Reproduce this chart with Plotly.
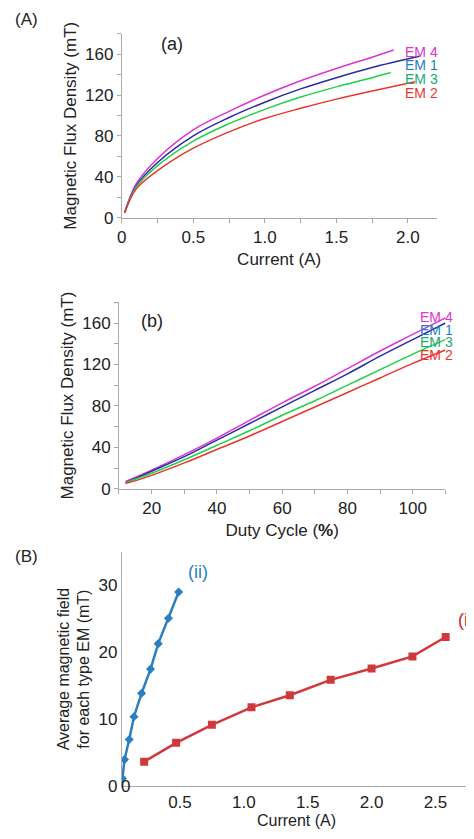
import plotly.graph_objects as go

# (a) flux density vs current
cur_x = {
    "EM 4": [0.02, 0.1, 0.25, 0.5, 0.75, 1.0, 1.25, 1.5, 1.75, 1.9],
    "EM 1": [0.02, 0.1, 0.25, 0.5, 0.75, 1.0, 1.25, 1.5, 1.75, 2.08],
    "EM 3": [0.02, 0.1, 0.25, 0.5, 0.75, 1.0, 1.25, 1.5, 1.75, 1.88],
    "EM 2": [0.02, 0.1, 0.25, 0.5, 0.75, 1.0, 1.25, 1.5, 1.75, 2.05],
}
cur_y = {
    "EM 4": [5, 33, 58, 86, 104, 120, 134, 146, 157, 164],
    "EM 1": [5, 31, 54, 80, 98, 113, 126, 137, 147, 158],
    "EM 3": [5, 30, 51, 75, 92, 106, 118, 128, 137, 142],
    "EM 2": [5, 28, 46, 68, 84, 97, 107, 116, 124, 133],
}
# (b) flux density vs duty cycle
duty_x = [12, 20, 30, 40, 50, 60, 70, 80, 90, 100, 110]
duty_y = {
    "EM 4": [7, 18, 33, 49, 66, 83, 99, 116, 133, 149, 165],
    "EM 1": [6, 17, 31, 47, 63, 79, 95, 111, 128, 144, 160],
    "EM 3": [6, 15, 28, 42, 56, 71, 85, 100, 115, 130, 144],
    "EM 2": [5, 13, 25, 38, 51, 65, 79, 93, 107, 121, 134],
}
colors = {"EM 4": "#e032d0", "EM 1": "#2a2aa8", "EM 3": "#22d04a", "EM 2": "#e8352e"}
label_colors = {"EM 4": "#e032d0", "EM 1": "#1a7fc0", "EM 3": "#1aaa70", "EM 2": "#e8352e"}
label_px_a = {"EM 4": 34, "EM 1": 48, "EM 3": 62, "EM 2": 76}
label_px_b = {"EM 4": 313, "EM 1": 326, "EM 3": 338, "EM 2": 351}

# (B) average field vs current
ii_x = [0.05, 0.066, 0.103, 0.14, 0.2, 0.27, 0.33, 0.41, 0.49]
ii_y = [1.2, 4.0, 7.0, 10.4, 13.9, 17.5, 21.3, 25.1, 29.0]
i_x = [0.22, 0.47, 0.75, 1.06, 1.36, 1.68, 2.0, 2.32, 2.58]
i_y = [3.7, 6.5, 9.2, 11.8, 13.6, 15.9, 17.6, 19.4, 22.3]

H = 839

fig = go.Figure()
for name in cur_x:
    fig.add_trace(go.Scatter(x=cur_x[name], y=cur_y[name], mode="lines", line_shape="spline",
                             line=dict(color=colors[name], width=1.5), xaxis="x", yaxis="y"))
    fig.add_trace(go.Scatter(x=duty_x, y=duty_y[name], mode="lines", line_shape="spline",
                             line=dict(color=colors[name], width=1.5), xaxis="x2", yaxis="y2"))
fig.add_trace(go.Scatter(x=ii_x, y=ii_y, mode="lines+markers", line=dict(color="#2a7fc0", width=2.5),
                         marker=dict(symbol="diamond", size=7), xaxis="x3", yaxis="y3"))
fig.add_trace(go.Scatter(x=i_x, y=i_y, mode="lines+markers", line=dict(color="#d0393b", width=2.5),
                         marker=dict(symbol="square", size=8), xaxis="x3", yaxis="y3"))

ax = dict(showgrid=False, zeroline=False, showline=True, linecolor="#aaa", ticks="outside",
          tickcolor="#aaa", ticklen=4, tickfont=dict(size=17, color="#222"))
ann = []
for name in cur_x:
    ann.append(dict(x=0.911, y=1 - label_px_a[name] / H, xref="paper", yref="paper", text=name,
                    showarrow=False, font=dict(size=14, color=label_colors[name])))
    ann.append(dict(x=0.943, y=1 - label_px_b[name] / H, xref="paper", yref="paper", text=name,
                    showarrow=False, font=dict(size=14, color=label_colors[name])))
ann += [
    dict(x=0.0, y=1.0, xref="paper", yref="paper", text="(A)", showarrow=False, xanchor="left",
         yanchor="top", font=dict(size=17)),
    dict(x=0.0, y=0.352, xref="paper", yref="paper", text="(B)", showarrow=False, xanchor="left",
         yanchor="top", font=dict(size=17)),
    dict(x=0.35, y=170, xref="x", yref="y", text="(a)", showarrow=False, font=dict(size=18)),
    dict(x=20, y=162, xref="x2", yref="y2", text="(b)", showarrow=False, font=dict(size=18)),
    dict(x=0.369, y=1 - 583 / H, xref="paper", yref="paper", text="(ii)", showarrow=False,
         xanchor="left", font=dict(size=18, color="#2a7fc0")),
    dict(x=0.945, y=1 - 632 / H, xref="paper", yref="paper", text="(i)", showarrow=False,
         xanchor="left", font=dict(size=18, color="#c0282b")),
]

fig.update_layout(
    width=474, height=839, margin=dict(l=0, r=0, t=0, b=0), showlegend=False,
    paper_bgcolor="white", plot_bgcolor="white",
    font=dict(family="Liberation Sans, Arial", size=16, color="#222"),
    xaxis=dict(ax, domain=[0.232, 0.903], range=[0, 2.2], tickvals=[0, 0.5, 1.0, 1.5, 2.0],
               ticktext=["0", "0.5", "1.0", "1.5", "2.0"], minor=dict(dtick=0.25, ticks="outside", ticklen=4, tickcolor="#aaa"),
               title=dict(text="Current (A)", font=dict(size=17), standoff=6)),
    yaxis=dict(ax, domain=[0.747, 0.969], range=[0, 180], tickvals=[0, 40, 80, 120, 160],
               minor=dict(dtick=20, ticks="outside", ticklen=4, tickcolor="#aaa"),
               title=dict(text="Magnetic Flux Density (mT)", font=dict(size=17), standoff=4)),
    xaxis2=dict(ax, domain=[0.226, 0.922], range=[10, 110], tickvals=[20, 40, 60, 80, 100],
                anchor="y2", minor=dict(dtick=10, ticks="outside", ticklen=4, tickcolor="#aaa"),
                title=dict(text="Duty Cycle (<b>%</b>)", font=dict(size=17), standoff=6)),
    yaxis2=dict(ax, domain=[0.420, 0.645], range=[0, 180], tickvals=[0, 40, 80, 120, 160],
                anchor="x2", minor=dict(dtick=20, ticks="outside", ticklen=4, tickcolor="#aaa"),
                title=dict(text="Magnetic Flux Density (mT)", font=dict(size=17), standoff=4)),
    xaxis3=dict(ax, domain=[0.232, 0.977], range=[0.045, 2.78], tickvals=[0.5, 1.0, 1.5, 2.0, 2.5],
                ticktext=["0.5", "1.0", "1.5", "2.0", "2.5"], ticks="", anchor="y3",
                title=dict(text="Current (A)", font=dict(size=16), standoff=2)),
    yaxis3=dict(ax, domain=[0.061, 0.344], range=[0, 35], tickvals=[0, 10, 20, 30], ticks="",
                anchor="x3", title=dict(text="Average magnetic field<br>for each type EM (mT)",
                                        font=dict(size=16), standoff=4)),
    annotations=ann,
)
fig.add_annotation(x=0.225, y=1 - 800 / H, xref="paper", yref="paper", text="0", showarrow=False,
                   font=dict(size=17, color="#222"))
fig.write_html("out.html")
